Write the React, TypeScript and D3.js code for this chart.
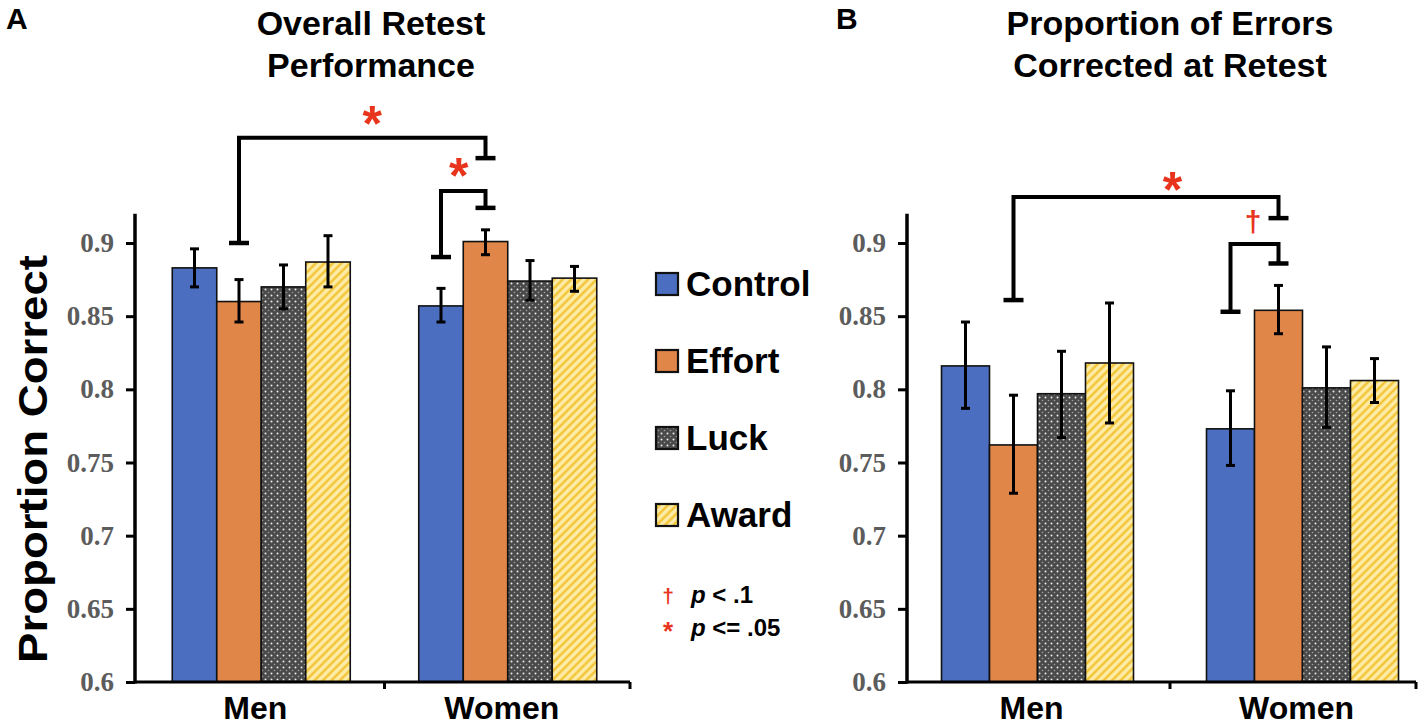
import React, { useEffect, useRef } from 'react';
import * as d3 from 'd3';

const groups = ['Men', 'Women'];
const conditions = ['Control', 'Effort', 'Luck', 'Award'];
const yTicks = [0.6, 0.65, 0.7, 0.75, 0.8, 0.85, 0.9];
const yTickLabels = ['0.6', '0.65', '0.7', '0.75', '0.8', '0.85', '0.9'];

// panel A: overall retest performance
const retestMean = [
  [0.883, 0.860, 0.870, 0.887],
  [0.857, 0.901, 0.874, 0.876],
];
const retestLow = [
  [0.870, 0.846, 0.855, 0.870],
  [0.846, 0.892, 0.861, 0.867],
];
const retestHigh = [
  [0.896, 0.875, 0.885, 0.905],
  [0.869, 0.909, 0.888, 0.884],
];

// panel B: proportion of errors corrected
const correctedMean = [
  [0.816, 0.762, 0.797, 0.818],
  [0.773, 0.854, 0.801, 0.806],
];
const correctedLow = [
  [0.787, 0.729, 0.767, 0.777],
  [0.748, 0.838, 0.774, 0.791],
];
const correctedHigh = [
  [0.846, 0.796, 0.826, 0.859],
  [0.799, 0.871, 0.829, 0.821],
];

const legendLabels = ['Control', 'Effort', 'Luck', 'Award'];

interface Bracket {
  left: [string, string, number];
  right: [string, string, number];
  top: number;
  mark: string;
  markAt: number;
  markY: number;
}

const retestBrackets: Bracket[] = [
  { left: ['Men', 'Effort', 0.9], right: ['Women', 'Effort', 0.958], top: 0.972, mark: '*', markAt: 0.54, markY: 0.989 },
  { left: ['Women', 'Control', 0.8904], right: ['Women', 'Effort', 0.924], top: 0.9355, mark: '*', markAt: 0.4, markY: 0.953 },
];
const correctedBrackets: Bracket[] = [
  { left: ['Men', 'Effort', 0.861], right: ['Women', 'Effort', 0.917], top: 0.9314, mark: '*', markAt: 0.6, markY: 0.944 },
  { left: ['Women', 'Control', 0.853], right: ['Women', 'Effort', 0.886], top: 0.8993, mark: '†', markAt: 0.47, markY: 0.914 },
];

const fills: Record<string, string> = {
  Control: '#4b6ec0',
  Effort: '#e08648',
  Luck: 'url(#luckPat)',
  Award: 'url(#awardPat)',
};

const SANS = '"Liberation Sans", Arial, sans-serif';
const SERIF = '"Liberation Serif", "Times New Roman", serif';
const RED = '#e8341c';

export default function App() {
  const ref = useRef<SVGSVGElement>(null);

  useEffect(() => {
    const svg = d3.select(ref.current);
    svg.selectAll('*').remove();

    const defs = svg.append('defs');
    const luck = defs.append('pattern')
      .attr('id', 'luckPat')
      .attr('patternUnits', 'userSpaceOnUse')
      .attr('width', 6)
      .attr('height', 6);
    luck.append('rect').attr('width', 6).attr('height', 6).attr('fill', '#4a4a4a');
    luck.append('circle').attr('cx', 1.5).attr('cy', 1.5).attr('r', 1).attr('fill', '#ececec');
    luck.append('circle').attr('cx', 4.5).attr('cy', 4.5).attr('r', 0.8).attr('fill', '#a0a0a0');

    const award = defs.append('pattern')
      .attr('id', 'awardPat')
      .attr('patternUnits', 'userSpaceOnUse')
      .attr('width', 6)
      .attr('height', 6)
      .attr('patternTransform', 'rotate(45)');
    award.append('rect').attr('width', 6).attr('height', 6).attr('fill', '#fdeca8');
    award.append('line')
      .attr('x1', 1.5).attr('x2', 1.5).attr('y1', 0).attr('y2', 6)
      .attr('stroke', '#f2c02a').attr('stroke-width', 2.2);

    const y = d3.scaleLinear().domain([0.6, 0.9]).range([682, 243]);
    const yTop = 0.92;

    const panels = [
      {
        letter: 'A', letterX: 6, axisX: 135, xRange: [138, 631], axisEnd: 630, innerW: 178,
        title: ['Overall Retest', 'Performance'], titleX: 371,
        mean: retestMean, low: retestLow, high: retestHigh, brackets: retestBrackets,
      },
      {
        letter: 'B', letterX: 836, axisX: 907, xRange: [905, 1435], axisEnd: 1416, innerW: 192,
        title: ['Proportion of Errors', 'Corrected at Retest'], titleX: 1170,
        mean: correctedMean, low: correctedLow, high: correctedHigh, brackets: correctedBrackets,
      },
    ];

    panels.forEach((p) => {
      const g = svg.append('g');
      const x0 = d3.scaleBand().domain(groups).range(p.xRange as [number, number]);
      const x1 = d3.scaleBand().domain(conditions).range([0, p.innerW]);
      const off = (x0.bandwidth() - p.innerW) / 2;
      const bx = (grp: string, c: string) => x0(grp)! + off + x1(c)!;
      const cx = (grp: string, c: string) => bx(grp, c) + x1.bandwidth() / 2;

      // panel letter & title
      g.append('text')
        .attr('x', p.letterX).attr('y', 29)
        .attr('font-family', SANS).attr('font-weight', 'bold').attr('font-size', 30)
        .text(p.letter);
      p.title.forEach((t, i) => {
        g.append('text')
          .attr('x', p.titleX).attr('y', 35 + i * 42)
          .attr('text-anchor', 'middle')
          .attr('font-family', SANS).attr('font-weight', 'bold').attr('font-size', 34)
          .text(t);
      });

      // bars
      groups.forEach((grp, gi) => {
        conditions.forEach((c, ci) => {
          g.append('rect')
            .attr('x', bx(grp, c))
            .attr('y', y(p.mean[gi][ci]))
            .attr('width', x1.bandwidth())
            .attr('height', y(0.6) - y(p.mean[gi][ci]))
            .attr('fill', fills[c])
            .attr('stroke', '#111')
            .attr('stroke-width', 1.6);
        });
      });

      // error bars
      groups.forEach((grp, gi) => {
        conditions.forEach((c, ci) => {
          const xc = cx(grp, c);
          const eg = g.append('g').attr('stroke', '#000').attr('stroke-width', 3);
          eg.append('line').attr('x1', xc).attr('x2', xc)
            .attr('y1', y(p.low[gi][ci])).attr('y2', y(p.high[gi][ci]));
          [p.low[gi][ci], p.high[gi][ci]].forEach((v) => {
            eg.append('line').attr('x1', xc - 4.5).attr('x2', xc + 4.5)
              .attr('y1', y(v)).attr('y2', y(v));
          });
        });
      });

      // y axis
      const yAxis = d3.axisLeft(y)
        .tickValues(yTicks)
        .tickSize(9)
        .tickPadding(12)
        .tickFormat((d, i) => yTickLabels[i]);
      const ya = g.append('g')
        .attr('transform', `translate(${p.axisX},0)`)
        .call(yAxis);
      ya.select('.domain').remove();
      ya.selectAll('.tick line').attr('stroke', '#000').attr('stroke-width', 3);
      ya.selectAll('.tick text')
        .attr('font-family', SERIF).attr('font-weight', 'bold').attr('font-size', 27)
        .attr('fill', '#5c5c5c');
      g.append('line')
        .attr('x1', p.axisX).attr('x2', p.axisX)
        .attr('y1', y(yTop)).attr('y2', y(0.6) + 1.5)
        .attr('stroke', '#000').attr('stroke-width', 3.5);

      // x axis
      g.append('line')
        .attr('x1', p.axisX).attr('x2', p.axisEnd)
        .attr('y1', y(0.6)).attr('y2', y(0.6))
        .attr('stroke', '#000').attr('stroke-width', 3);
      [x0('Women')!, p.axisEnd].forEach((tx) => {
        g.append('line')
          .attr('x1', tx).attr('x2', tx)
          .attr('y1', y(0.6)).attr('y2', y(0.6) + 7)
          .attr('stroke', '#000').attr('stroke-width', 3);
      });
      groups.forEach((grp) => {
        g.append('text')
          .attr('x', x0(grp)! + x0.bandwidth() / 2 - 6)
          .attr('y', 719)
          .attr('text-anchor', 'middle')
          .attr('font-family', SANS).attr('font-weight', 'bold').attr('font-size', 32)
          .text(grp);
      });

      // significance brackets
      p.brackets.forEach((b) => {
        const lx = cx(b.left[0], b.left[1]);
        const rx = cx(b.right[0], b.right[1]);
        const path = d3.path();
        path.moveTo(lx, y(b.left[2]));
        path.lineTo(lx, y(b.top));
        path.lineTo(rx, y(b.top));
        path.lineTo(rx, y(b.right[2]));
        g.append('path')
          .attr('d', path.toString())
          .attr('fill', 'none')
          .attr('stroke', '#000')
          .attr('stroke-width', 4);
        [[lx, b.left[2]], [rx, b.right[2]]].forEach(([px, pv]) => {
          g.append('line')
            .attr('x1', px - 10).attr('x2', px + 10)
            .attr('y1', y(pv)).attr('y2', y(pv))
            .attr('stroke', '#000').attr('stroke-width', 4.5);
        });
        const mx = lx + (rx - lx) * b.markAt;
        if (b.mark === '*') {
          g.append('text')
            .attr('x', mx).attr('y', y(b.markY) + 28)
            .attr('text-anchor', 'middle')
            .attr('font-family', SANS).attr('font-weight', 'bold').attr('font-size', 50)
            .attr('fill', RED)
            .text('*');
        } else {
          g.append('text')
            .attr('x', mx).attr('y', y(b.markY) + 9)
            .attr('text-anchor', 'middle')
            .attr('font-family', SANS).attr('font-weight', 'bold').attr('font-size', 30)
            .attr('fill', RED)
            .text('†');
        }
      });
    });

    // y axis title
    svg.append('text')
      .attr('transform', 'translate(47,459) rotate(-90)')
      .attr('text-anchor', 'middle')
      .attr('font-family', SANS).attr('font-weight', 'bold').attr('font-size', 40)
      .attr('textLength', 408).attr('lengthAdjust', 'spacingAndGlyphs')
      .text('Proportion Correct');

    // legend
    const legY = d3.scalePoint().domain(legendLabels).range([284, 515]);
    legendLabels.forEach((l) => {
      const ly = legY(l)!;
      svg.append('rect')
        .attr('x', 656).attr('y', ly - 11)
        .attr('width', 22).attr('height', 22)
        .attr('fill', fills[l])
        .attr('stroke', '#111').attr('stroke-width', 2.2);
      svg.append('text')
        .attr('x', 686).attr('y', ly + 12)
        .attr('font-family', SANS).attr('font-weight', 'bold').attr('font-size', 35)
        .text(l);
    });

    const pl = [
      { sym: '†', symSize: 21, label: ' < .1', yy: 603 },
      { sym: '*', symSize: 26, label: ' <= .05', yy: 636 },
    ];
    pl.forEach((d) => {
      svg.append('text')
        .attr('x', 668).attr('y', d.sym === '*' ? d.yy + 4 : d.yy)
        .attr('text-anchor', 'middle')
        .attr('font-family', SANS).attr('font-weight', 'bold').attr('font-size', d.symSize)
        .attr('fill', RED)
        .text(d.sym);
      const t = svg.append('text')
        .attr('x', 691).attr('y', d.yy)
        .attr('font-family', SANS).attr('font-weight', 'bold').attr('font-size', 24);
      t.append('tspan').attr('font-style', 'italic').text('p');
      t.append('tspan').text(d.label);
    });
  }, []);

  return (
    <svg
      ref={ref}
      width={1424}
      height={726}
      style={{ position: 'absolute', left: 0, top: 0, background: '#fff' }}
    />
  );
}
